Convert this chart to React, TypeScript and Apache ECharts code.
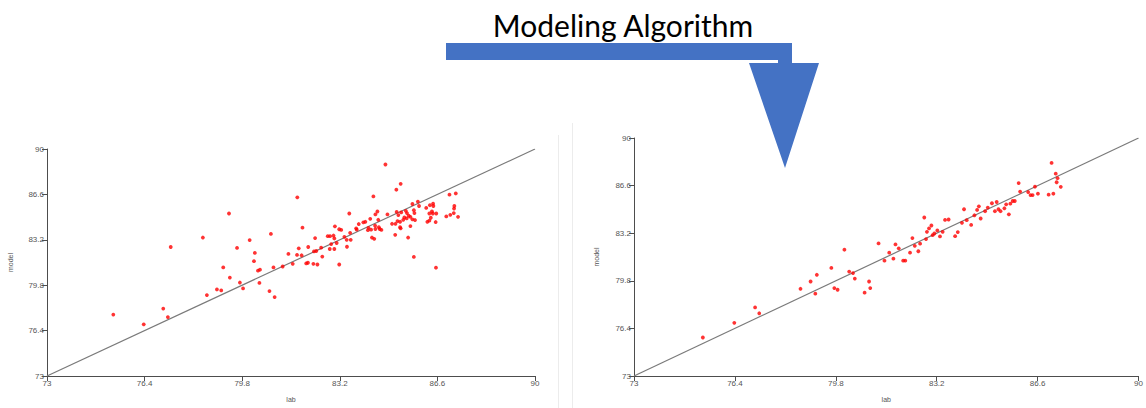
import React, { useEffect, useRef } from "react";
import * as echarts from "echarts";

const TITLE = "Modeling Algorithm";
const X_NAME = "lab";
const Y_NAME = "model";
const AXIS_MIN = 73;
const AXIS_MAX = 90;
const AXIS_TICKS = [73, 76.4, 79.8, 83.2, 86.6, 90];
const IDENTITY = [73, 90];

const leftLab = [
  75.31, 76.37, 77.05, 77.21, 77.31, 78.43, 78.57, 78.92, 79.07, 79.14,
  79.34, 79.37, 79.62, 79.72, 79.83, 80.06, 80.21, 80.24, 80.35, 80.42,
  80.40, 80.75, 80.80, 80.89, 80.93, 81.21, 81.41, 81.56, 81.71, 81.72,
  81.77, 81.90, 81.87, 82.03, 82.09, 82.10, 82.28, 82.30, 82.34, 82.38,
  82.42, 82.55, 82.59, 82.78, 82.85, 82.86, 82.90, 82.98, 83.01, 83.01,
  83.03, 83.09, 83.18, 83.18, 83.25, 83.36, 83.44, 83.45, 83.53, 83.56,
  83.58, 83.77, 83.79, 83.86, 84.02, 84.09, 84.20, 84.18, 84.26, 84.29,
  84.32, 84.37, 84.40, 84.44, 84.51, 84.54, 84.56, 84.44, 84.43, 84.59,
  84.65, 84.79, 84.86, 85.02, 85.14, 85.13, 85.17, 85.18, 85.21, 85.24,
  85.30, 85.30, 85.32, 85.32, 85.34, 85.41, 85.45, 85.50, 85.53, 85.54,
  85.58, 85.60, 85.66, 85.66, 85.73, 85.73, 85.78, 85.78, 85.80, 85.82,
  85.92, 85.96, 86.21, 86.25, 86.32, 86.32, 86.34, 86.37, 86.41, 86.44,
  86.45, 86.46, 86.54, 86.55, 86.56, 86.91, 87.02, 87.05, 87.17, 87.19,
  87.18, 87.24, 87.32,
];
const leftModel = [
  77.60, 76.87, 78.05, 77.41, 82.66, 83.37, 79.06, 79.48, 79.41, 81.13,
  85.17, 80.37, 82.59, 80.00, 79.56, 83.18, 81.60, 82.22, 80.89, 80.96,
  79.97, 79.36, 83.64, 81.13, 78.91, 81.20, 82.14, 81.40, 82.07, 86.38,
  82.56, 84.11, 82.04, 81.43, 81.48, 82.66, 81.40, 82.33, 83.33, 82.36,
  81.35, 82.61, 81.94, 83.47, 82.51, 83.47, 82.88, 83.52, 83.30, 82.51,
  84.21, 82.96, 83.99, 81.35, 83.94, 83.42, 83.20, 82.68, 85.17, 83.72,
  83.20, 84.06, 83.96, 84.38, 84.51, 84.55, 84.09, 83.92, 84.77, 83.96,
  83.37, 86.45, 83.27, 84.01, 85.32, 84.70, 84.14, 85.10, 84.26, 84.01,
  83.94, 88.84, 85.10, 84.40, 84.40, 83.57, 86.95, 85.29, 84.60, 85.05,
  84.55, 84.14, 84.06, 87.39, 85.25, 84.70, 84.88, 85.37, 84.80, 85.20,
  83.37, 85.00, 84.92, 84.23, 85.88, 84.73, 85.42, 81.92, 85.20, 84.68,
  86.06, 85.73, 85.59, 84.55, 85.17, 84.63, 85.79, 84.85, 85.32, 85.17,
  85.91, 85.73, 84.53, 81.11, 85.17, 84.95, 86.58, 85.07, 85.20, 85.73,
  85.54, 86.67, 84.92,
];

const rightLab = [
  75.32, 76.38, 77.08, 77.22, 78.61, 78.95, 79.16, 79.11, 79.65, 79.75,
  79.86, 80.09, 80.25, 80.38, 80.44, 80.77, 80.92, 80.96, 81.24, 81.44,
  81.60, 81.74, 81.81, 81.92, 82.07, 82.14, 82.30, 82.38, 82.46, 82.58,
  82.64, 82.78, 82.84, 82.87, 82.94, 83.02, 83.06, 83.12, 83.22, 83.31,
  83.40, 83.48, 83.60, 83.82, 83.91, 84.05, 84.12, 84.21, 84.36, 84.47,
  84.56, 84.62, 84.68, 84.83, 84.92, 85.06, 85.16, 85.22, 85.28, 85.35,
  85.48, 85.54, 85.63, 85.68, 85.76, 85.83, 85.96, 86.01, 86.28, 86.36,
  86.43, 86.51, 86.61, 86.97, 87.07, 87.13, 87.21, 87.27, 87.24, 87.38,
];
const rightModel = [
  75.75, 76.80, 77.90, 77.48, 79.23, 79.75, 80.23, 78.88, 80.72, 79.28,
  79.16, 82.02, 80.46, 80.35, 79.96, 78.95, 79.75, 79.28, 82.47, 81.24,
  81.81, 81.38, 82.40, 82.12, 81.24, 81.24, 81.81, 82.85, 82.30, 81.91,
  82.45, 84.32, 82.78, 83.30, 83.54, 83.75, 83.06, 83.18, 83.40, 82.97,
  83.30, 84.15, 84.18, 82.99, 83.28, 83.94, 84.91, 84.13, 83.79, 84.48,
  84.86, 85.12, 84.25, 84.77, 85.03, 85.34, 84.77, 85.43, 84.91, 84.77,
  84.98, 85.26, 84.55, 85.31, 85.50, 85.50, 86.78, 86.17, 86.14, 85.92,
  85.92, 86.52, 86.02, 85.95, 88.22, 86.02, 87.45, 87.13, 86.84, 86.51,
];

const zip = (a: number[], b: number[]) => a.map((v, i) => [v, b[i]]);

const AXIS_FONT = "Liberation Sans";

function makeAxis(gridIndex: number, name: string, nameGap: number) {
  return {
    type: "value",
    gridIndex,
    min: AXIS_MIN,
    max: AXIS_MAX,
    name,
    nameLocation: "middle",
    nameGap,
    nameTextStyle: { fontSize: 7, color: "#555", fontFamily: AXIS_FONT },
    axisLine: { show: true, onZero: false, lineStyle: { color: "#4d4d4d", width: 1 } },
    axisTick: {
      show: true,
      length: 5,
      customValues: AXIS_TICKS,
      lineStyle: { color: "#4d4d4d", width: 1 },
    },
    axisLabel: {
      customValues: AXIS_TICKS,
      fontSize: 8,
      color: "#555",
      margin: 3,
      fontFamily: AXIS_FONT,
      formatter: (v: number) => String(v),
    },
    splitLine: { show: false },
  };
}

export default function App() {
  const ref = useRef<HTMLDivElement>(null);

  useEffect(() => {
    if (!ref.current) return;
    const chart = echarts.init(ref.current, null, { renderer: "svg" });

    const option: any = {
      animation: false,
      backgroundColor: "#ffffff",
      grid: [
        { left: 47, top: 149, width: 488, height: 230 },
        { left: 634, top: 138, width: 508, height: 240 },
      ],
      xAxis: [makeAxis(0, X_NAME, 20), makeAxis(1, X_NAME, 20)],
      yAxis: [makeAxis(0, Y_NAME, 33), makeAxis(1, Y_NAME, 34)],
      series: [
        {
          type: "line",
          xAxisIndex: 0,
          yAxisIndex: 0,
          data: zip(IDENTITY, IDENTITY),
          symbol: "none",
          lineStyle: { color: "#7a7a7a", width: 1.2 },
          silent: true,
          z: 1,
        },
        {
          type: "scatter",
          xAxisIndex: 0,
          yAxisIndex: 0,
          data: zip(leftLab, leftModel),
          symbolSize: 3.8,
          itemStyle: { color: "#ff0000" },
          z: 2,
        },
        {
          type: "line",
          xAxisIndex: 1,
          yAxisIndex: 1,
          data: zip(IDENTITY, IDENTITY),
          symbol: "none",
          lineStyle: { color: "#7a7a7a", width: 1.2 },
          silent: true,
          z: 1,
        },
        {
          type: "scatter",
          xAxisIndex: 1,
          yAxisIndex: 1,
          data: zip(rightLab, rightModel),
          symbolSize: 3.8,
          itemStyle: { color: "#ff0000" },
          z: 2,
        },
      ],
      graphic: [
        {
          type: "line",
          shape: { x1: 558.5, y1: 135, x2: 558.5, y2: 408 },
          style: { stroke: "#ececec", lineWidth: 1 },
          silent: true,
        },
        {
          type: "line",
          shape: { x1: 572.5, y1: 123, x2: 572.5, y2: 408 },
          style: { stroke: "#ececec", lineWidth: 1 },
          silent: true,
        },
        {
          type: "polygon",
          shape: {
            points: [
              [446, 43],
              [792, 43],
              [792, 63],
              [819, 63],
              [785, 168],
              [749, 63],
              [778, 63],
              [778, 60],
              [446, 60],
            ],
          },
          style: { fill: "#4472C4" },
          z: 10,
          silent: true,
        },
        {
          type: "text",
          x: 623,
          y: 25,
          style: {
            text: TITLE,
            fill: "#000000",
            font: "30px Lato",
            textAlign: "center",
            textVerticalAlign: "middle",
          },
          z: 10,
          silent: true,
        },
      ],
    };

    chart.setOption(option);
    return () => chart.dispose();
  }, []);

  return (
    <div
      ref={ref}
      style={{ position: "fixed", left: 0, top: 0, width: 1146, height: 408, background: "#fff" }}
    />
  );
}
